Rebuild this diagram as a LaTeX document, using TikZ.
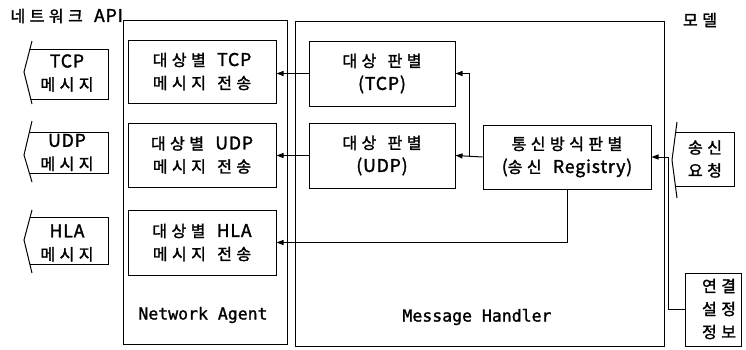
\documentclass[tikz,border=0pt]{standalone}
\usepackage{fontspec}
\setmainfont{Noto Sans CJK KR}
\newfontfamily\kfont[LetterSpace=28,WordSpace=1.4,FakeBold=1.7]{Noto Sans CJK KR}
\newfontfamily\latfont[Scale=1.1,LetterSpace=5,WordSpace=1.3,FakeBold=1.7]{Noto Sans CJK KR}
\newfontfamily\monofont[FakeBold=1.4]{DejaVu Sans Mono}
\newcommand{\lt}[1]{{\latfont #1}}
\usetikzlibrary{arrows.meta}
\begin{document}
\begin{tikzpicture}[x=1pt,y=-1pt, line width=1pt,
  box/.style={draw, rectangle, inner sep=0pt, align=center, font=\kfont\fontsize{16}{23}\selectfont},
  lbl/.style={inner sep=0pt, align=center, font=\kfont\fontsize{16}{23}\selectfont},
  mono/.style={inner sep=0pt, font=\monofont\fontsize{16.5}{20}\selectfont},
  big/.style={draw, rectangle, inner sep=0pt},
  arr/.style={-{Triangle[length=7pt,width=5pt]}}]
\useasboundingbox (0,0) rectangle (746,349);

% outer boxes
\node[big, minimum width=164pt, minimum height=324pt] (na) at (205,182) {};
\node[big, minimum width=369pt, minimum height=325pt] (mh) at (479.5,183.5) {};
\node[mono] (naLabel) at (203,315) {Network Agent};
\node[mono] (mhLabel) at (477,317) {Message Handler};

% top labels
\node[lbl, anchor=west] (api) at (10,16) {네트워크 \lt{API}};
\node[lbl] (model) at (700,20) {모델};

% Network Agent boxes
\node[box, minimum width=148pt, minimum height=63pt] (tcpSend) at (202,71.5) {대상별 \lt{TCP}\\메시지 전송};
\node[box, minimum width=148pt, minimum height=64pt] (udpSend) at (202,155) {대상별 \lt{UDP}\\메시지 전송};
\node[box, minimum width=148pt, minimum height=65pt] (hlaSend) at (202,242.5) {대상별 \lt{HLA}\\메시지 전송};

% Message Handler boxes
\node[box, minimum width=146pt, minimum height=65pt] (tcpJ) at (382,73.5) {대상 판별\\\lt{(TCP)}};
\node[box, minimum width=146pt, minimum height=65pt] (udpJ) at (382,155.5) {대상 판별\\\lt{(UDP)}};
\node[box, minimum width=168pt, minimum height=64pt] (reg) at (567,157) {통신방식판별\\\lt{(}송신 \lt{Registry)}};

% connection info box
\node[big, minimum width=56pt, minimum height=73pt] (conn) at (713,309.5) {};
\node[lbl] (connText) at (719,309) {연결\\설정\\정보};

% connectors
\draw[arr] (tcpJ.west) -- (tcpJ.west -| tcpSend.east);
\draw[arr] (udpJ.west) -- (udpJ.west -| udpSend.east);
\draw[arr] (reg.west) -- (udpJ.east);
\coordinate (br) at (469,157);
\draw[arr] (br) |- (tcpJ.east);
\draw[arr] (reg.south) |- (hlaSend.east);
\coordinate (cc) at (668,157);
\draw[arr] (conn.west) -| (cc) -- (reg.east);

% message flags
\draw (29.9,49) -- (108,49) -- (108,99) -- (30.75,99);
\draw (32,41) -- (24,72) -- (32,104);
\node[lbl] (tcpMsg) at (67,73) {\lt{TCP}\\메시지};

\draw (29.4,132) -- (108,132) -- (108,173) -- (29.3,173);
\draw (32,121) -- (24,155) -- (32,182);
\node[lbl] (udpMsg) at (67,152.5) {\lt{UDP}\\메시지};

\draw (30.1,217) -- (108,217) -- (108,264) -- (29.8,264);
\draw (32,210) -- (24,240) -- (32,273);
\node[lbl] (hlaMsg) at (67,243) {\lt{HLA}\\메시지};

\draw (675.7,132) -- (734,132) -- (734,186) -- (675.4,186);
\draw (677,122) -- (672,160) -- (677,198);
\node[lbl] (sendReq) at (705,159) {송신\\요청};
\end{tikzpicture}
\end{document}
